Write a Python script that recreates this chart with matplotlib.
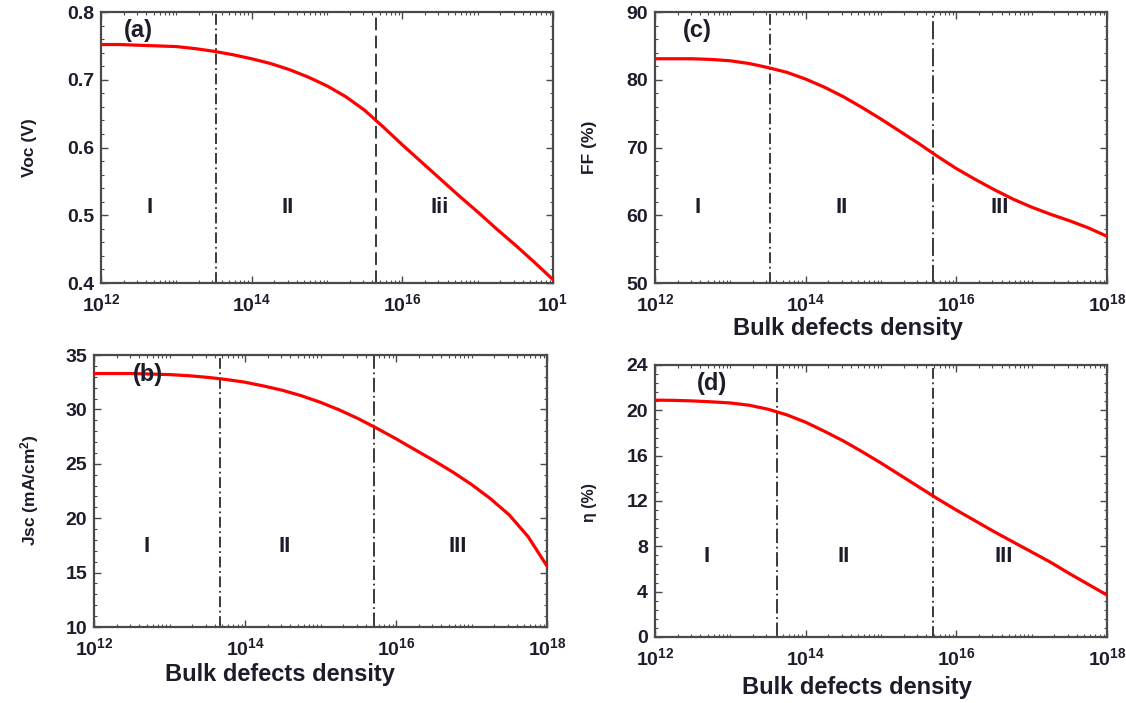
import numpy as np
import matplotlib
matplotlib.use("Agg")
import matplotlib.pyplot as plt
from matplotlib.ticker import FixedLocator, NullFormatter, MultipleLocator, LogLocator

plt.rcParams['font.family'] = ['Liberation Sans', 'DejaVu Sans']
plt.rcParams['font.weight'] = 'bold'
plt.rcParams['mathtext.fontset'] = 'custom'
plt.rcParams['mathtext.rm'] = 'Liberation Sans:bold'
plt.rcParams['mathtext.bf'] = 'Liberation Sans:bold'
plt.rcParams['mathtext.it'] = 'Liberation Sans:bold'

# Bulk defect density (log10 cm^-3), quarter-decade steps
log_n = [12.0, 12.25, 12.5, 12.75, 13.0, 13.25, 13.5, 13.75, 14.0, 14.25, 14.5, 14.75,
         15.0, 15.25, 15.5, 15.75, 16.0, 16.25, 16.5, 16.75, 17.0, 17.25, 17.5, 17.75, 18.0]

voc = [0.752, 0.752, 0.751, 0.750, 0.749, 0.746, 0.742, 0.737, 0.731, 0.724, 0.715, 0.704,
       0.691, 0.675, 0.655, 0.630, 0.604, 0.579, 0.554, 0.529, 0.505, 0.480, 0.456, 0.431, 0.405]
ff = [83.1, 83.1, 83.1, 83.0, 82.8, 82.4, 81.8, 81.1, 80.1, 78.9, 77.5, 75.9,
      74.2, 72.4, 70.6, 68.7, 66.9, 65.3, 63.8, 62.4, 61.2, 60.15, 59.2, 58.15, 56.9]
jsc = [33.3, 33.3, 33.3, 33.25, 33.2, 33.1, 32.95, 32.75, 32.5, 32.15, 31.75, 31.25,
       30.65, 29.95, 29.15, 28.25, 27.3, 26.3, 25.3, 24.25, 23.1, 21.8, 20.3, 18.3, 15.6]
eta = [20.9, 20.88, 20.83, 20.75, 20.65, 20.45, 20.1, 19.6, 18.95, 18.15, 17.3, 16.35,
       15.35, 14.3, 13.25, 12.2, 11.2, 10.25, 9.3, 8.4, 7.5, 6.6, 5.6, 4.65, 3.7]

x_ticks = [1e12, 1e14, 1e16, 1e18]
x_tick_labels = [r'$10^{12}$', r'$10^{14}$', r'$10^{16}$', r'$10^{18}$']
region_names = ['I', 'II', 'III']

TXT = '#1c1c2a'
SPINE = '#4a4a4a'
N = [10 ** v for v in log_n]

fig = plt.figure(figsize=(11.26, 7.03), dpi=100)

panels = [
    dict(rect=[0.0897, 0.5974, 0.4014, 0.3855], y=voc, ylim=(0.4, 0.8), ystep=0.1, yminor=0.02,
         ylabel='Voc (V)', ylabsize=12.5, ylabpos=(-0.159, 0.5), tag='(a)', tagpos=(10 ** 12.49, 0.773),
         bounds=[3.4e13, 4.5e15], styles=[(0, (6, 2, 1, 2)), (0, (7, 3))],
         rx=[10 ** 12.65, 10 ** 14.48, 10 ** 16.5], ry=0.511, names=['I', 'II', 'Iii'],
         xlabel=None, xlabpos=None,
         xticklabels=[r'$10^{12}$', r'$10^{14}$', r'$10^{16}$', r'$10^{1}$']),
    dict(rect=[0.5817, 0.5974, 0.4014, 0.3855], y=ff, ylim=(50, 90), ystep=10, yminor=2,
         ylabel='FF (%)', ylabsize=12.5, ylabpos=(-0.144, 0.5), tag='(c)', tagpos=(10 ** 12.56, 87.3),
         bounds=[3.4e13, 4.9e15], styles=[(0, (6, 2, 1, 2)), (0, (10, 2, 1, 2))],
         rx=[10 ** 12.56, 10 ** 14.48, 10 ** 16.58], ry=61.2, names=region_names,
         xlabel='Bulk defects density', xlabpos=(0.427, -0.166), xticklabels=x_tick_labels),
    dict(rect=[0.0835, 0.1081, 0.4023, 0.3869], y=jsc, ylim=(10, 35), ystep=5, yminor=1,
         ylabel=r'Jsc (mA/cm$^{2}$)', ylabsize=12.5, ylabpos=(-0.143, 0.504), tag='(b)',
         tagpos=(10 ** 12.72, 33.2),
         bounds=[4.7e13, 5.1e15], styles=[(0, (6, 2, 1, 2)), (0, (8, 2, 1, 2))],
         rx=[10 ** 12.7, 10 ** 14.52, 10 ** 16.82], ry=17.4, names=region_names,
         xlabel='Bulk defects density', xlabpos=(0.41, -0.173), xticklabels=x_tick_labels),
    dict(rect=[0.5817, 0.0939, 0.4014, 0.3869], y=eta, ylim=(0, 24), ystep=4, yminor=0.8,
         ylabel='η (%)', ylabsize=11.5, ylabpos=(-0.144, 0.496), tag='(d)', tagpos=(10 ** 12.76, 22.4),
         bounds=[4.2e13, 4.9e15], styles=[(0, (8, 2, 1, 2)), (0, (6, 2, 1, 2))],
         rx=[10 ** 12.68, 10 ** 14.5, 10 ** 16.63], ry=7.06, names=region_names,
         xlabel='Bulk defects density', xlabpos=(0.447, -0.1875), xticklabels=x_tick_labels),
]

for p in panels:
    ax = fig.add_axes(p['rect'])
    ax.set_xscale('log')
    ax.set_xlim(1e12, 1e18)
    ax.set_ylim(*p['ylim'])

    for b, ls in zip(p['bounds'], p['styles']):
        ax.axvline(b, color='#2a2a2a', lw=1.3, linestyle=ls, zorder=1)

    ax.plot(N, p['y'], color='#ff0000', lw=2.3, solid_capstyle='round',
            solid_joinstyle='round', zorder=3)

    ax.xaxis.set_major_locator(FixedLocator(x_ticks))
    ax.set_xticklabels(p['xticklabels'])
    ax.xaxis.set_minor_locator(LogLocator(base=10, subs=np.arange(1, 10), numticks=30))
    ax.xaxis.set_minor_formatter(NullFormatter())
    ax.yaxis.set_major_locator(MultipleLocator(p['ystep']))
    ax.yaxis.set_minor_locator(MultipleLocator(p['yminor']))

    ax.tick_params(which='both', direction='in', top=True, right=True, colors=SPINE,
                   labelcolor=TXT, labelsize=14)
    ax.tick_params(which='major', length=5, width=1.0)
    ax.tick_params(which='minor', length=2.5, width=0.8)
    ax.tick_params(axis='x', which='major', pad=7)
    ax.tick_params(axis='y', which='major', pad=5)
    for lbl in ax.get_xticklabels() + ax.get_yticklabels():
        lbl.set_fontweight('bold')
    for s in ax.spines.values():
        s.set_color(SPINE)
        s.set_linewidth(1.6)

    ax.set_ylabel(p['ylabel'], fontsize=p['ylabsize'], fontweight='bold', color=TXT)
    ax.yaxis.set_label_coords(*p['ylabpos'])
    ax.yaxis.label.set_va('center')
    if p['xlabel']:
        ax.set_xlabel(p['xlabel'], fontsize=17, fontweight='bold', color=TXT)
        ax.xaxis.set_label_coords(*p['xlabpos'])
        ax.xaxis.label.set_va('center')

    ax.text(p['tagpos'][0], p['tagpos'][1], p['tag'], fontsize=17, fontweight='bold',
            color=TXT, ha='center', va='center', zorder=4)
    for xr, name in zip(p['rx'], p['names']):
        ax.text(xr, p['ry'], name, fontsize=16, fontweight='bold', color=TXT,
                ha='center', va='center', zorder=4)

fig.savefig('out.png', dpi=100)
